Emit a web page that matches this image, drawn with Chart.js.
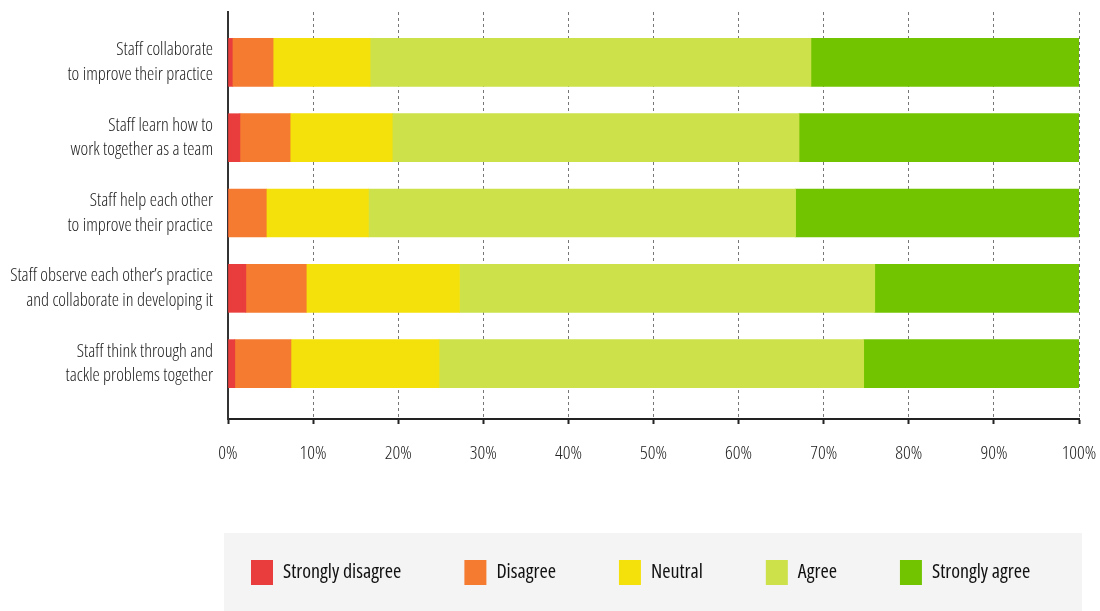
<!DOCTYPE html>
<html>
<head>
<meta charset="utf-8">
<title>Staff collaboration</title>
<script src="https://cdn.jsdelivr.net/npm/chart.js@4/dist/chart.umd.min.js"></script>
<style>
  html, body { margin: 0; padding: 0; background: #fff; }
  #wrap { width: 1100px; height: 611px; position: relative; }
</style>
</head>
<body>
<div id="wrap"><canvas id="myChart"></canvas></div>
<script>
// Categorias (cada uma em duas linhas)
const categories = [
  ['Staff collaborate', 'to improve their practice'],
  ['Staff learn how to', 'work together as a team'],
  ['Staff help each other', 'to improve their practice'],
  ['Staff observe each other\u2019s practice', 'and collaborate in developing it'],
  ['Staff think through and', 'tackle problems together']
];

// Percentagens por resposta
const stronglyDisagree = [0.5, 1.4, 0.0, 2.1, 0.8];
const disagree         = [4.8, 5.9, 4.5, 7.1, 6.6];
const neutral          = [11.4, 12.0, 12.0, 18.0, 17.4];
const agree            = [51.8, 47.8, 50.2, 48.8, 49.9];
const stronglyAgree    = [31.5, 32.9, 33.3, 24.0, 25.3];

const seriesNames = ['Strongly disagree', 'Disagree', 'Neutral', 'Agree', 'Strongly agree'];
const seriesColors = ['#e83d3c', '#f47b30', '#f4e10b', '#cde24a', '#73c400'];
const seriesValues = [stronglyDisagree, disagree, neutral, agree, stronglyAgree];

const tickValues = [0, 10, 20, 30, 40, 50, 60, 70, 80, 90, 100];

// fonte estreita (Open Sans condensada)
const narrow = "'Open Sans', 'Roboto Condensed', sans-serif";

// Fundo cinzento da legenda
const legendBackground = {
  id: 'legendBackground',
  beforeDraw(chart) {
    const lg = chart.legend;
    if (!lg || !lg.legendHitBoxes || !lg.legendHitBoxes.length) return;
    const ctx = chart.ctx;
    const area = chart.chartArea;
    const top = lg.legendHitBoxes[0].top - 27;
    ctx.save();
    ctx.fillStyle = '#f4f4f4';
    ctx.fillRect(area.left - 4, top, area.right - area.left + 7, chart.height - top);
    ctx.restore();
  }
};

window.onload = function() {
  const ctx = document.getElementById('myChart').getContext('2d');

  const datasets = seriesNames.map((name, s) => ({
    label: name,
    data: seriesValues[s].map((v, i) => ({ x: v, y: i })),
    backgroundColor: seriesColors[s],
    borderWidth: 0,
    barThickness: 48
  }));

  new Chart(ctx, {
    type: 'bar',
    data: { datasets: datasets },
    options: {
      indexAxis: 'y',
      responsive: true,
      maintainAspectRatio: false,
      animation: false,
      layout: { padding: { left: 188, right: 0, top: 12, bottom: 16 } },
      scales: {
        x: {
          type: 'linear',
          stacked: true,
          min: 0,
          max: 100,
          afterBuildTicks(scale) {
            scale.ticks = tickValues.map(v => ({ value: v }));
          },
          afterFit(scale) {
            scale.height = 78;
            scale.paddingLeft = 0;
            scale.paddingRight = 21;
          },
          border: { display: true, color: '#222', width: 2, dash: [3, 3] },
          grid: {
            color: c => (c.index === 0 ? 'rgba(0,0,0,0)' : '#777'),
            lineWidth: 1,
            drawTicks: true,
            tickLength: 5,
            tickColor: '#222',
            tickWidth: 2,
            tickBorderDash: [1, 0]
          },
          ticks: {
            padding: 18,
            color: '#222',
            font: { family: narrow, weight: '300 condensed', size: 19 },
            callback: v => v + '%'
          }
        },
        y: {
          type: 'linear',
          stacked: true,
          offset: false,
          bounds: 'data',
          reverse: true,
          min: -0.669,
          max: 4.735,
          // um tick por categoria
          afterBuildTicks(scale) {
            scale.ticks = categories.map((c, i) => ({ value: i }));
          },
          afterFit(scale) {
            scale.width = 40;
            scale.paddingTop = 0;
            scale.paddingBottom = 0;
            // os rótulos são mais largos que o eixo: não cortar
            scale._computeLabelArea = () => null;
          },
          border: { display: true, color: '#333', width: 2 },
          grid: { display: false, drawTicks: false, offset: false },
          ticks: {
            autoSkip: false,
            padding: 15,
            color: '#222',
            font: { family: narrow, weight: '300 condensed', size: 18.3, lineHeight: 1.35 },
            callback: v => categories[v] || ''
          }
        }
      },
      plugins: {
        legend: {
          position: 'bottom',
          align: 'start',
          labels: {
            boxWidth: 22,
            boxHeight: 25,
            padding: 63,
            color: '#111',
            font: { family: narrow, weight: '400 condensed', size: 20 }
          }
        },
        tooltip: { enabled: false }
      }
    },
    plugins: [legendBackground]
  });
};
</script>
</body>
</html>
